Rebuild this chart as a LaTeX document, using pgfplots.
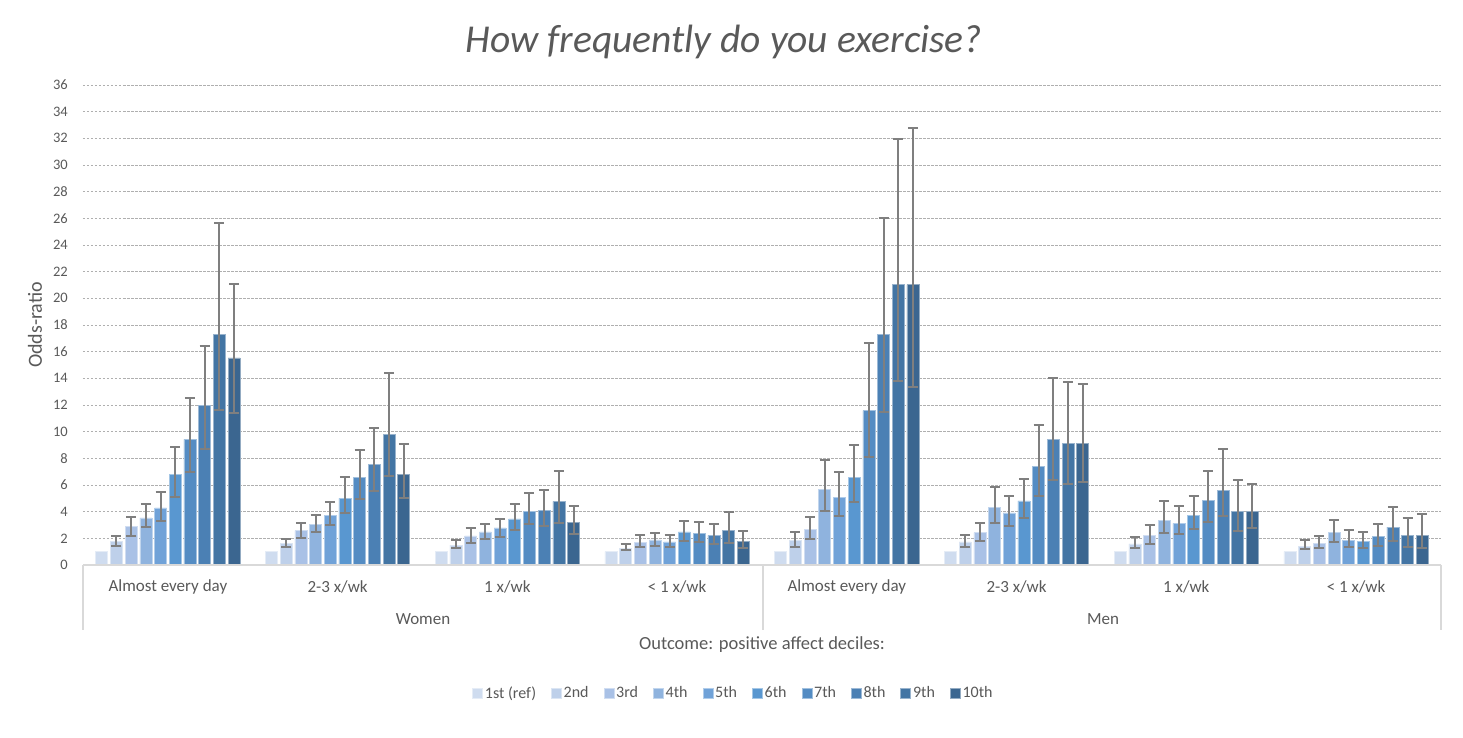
\documentclass[border=0pt]{standalone}
\usepackage{fontspec}
\setmainfont{Carlito}
\usepackage{pgfplots}
\pgfplotsset{compat=1.18}
\usepackage{pgfplotstable}

\definecolor{c1}{RGB}{207,220,239}
\definecolor{c2}{RGB}{190,208,234}
\definecolor{c3}{RGB}{169,193,230}
\definecolor{c4}{RGB}{143,179,222}
\definecolor{c5}{RGB}{112,162,216}
\definecolor{c6}{RGB}{89,151,208}
\definecolor{c7}{RGB}{84,140,195}
\definecolor{c8}{RGB}{75,128,180}
\definecolor{c9}{RGB}{67,117,164}
\definecolor{c10}{RGB}{59,102,144}
\definecolor{txt}{RGB}{89,89,89}
\definecolor{errc}{RGB}{127,127,127}
\definecolor{axc}{RGB}{217,217,217}
\definecolor{gridc}{RGB}{175,175,175}

\pgfplotstableread{
x y lo hi
0 1 1 1
1 1 1 1
2 1 1 1
3 1 1 1
4 1 1 1
5 1 1 1
6 1 1 1
7 1 1 1
}\dA
\pgfplotstableread{
x y lo hi
0 1.75 1.40 2.20
1 1.63 1.33 1.98
2 1.50 1.28 1.88
3 1.25 1.13 1.58
4 1.83 1.35 2.45
5 1.73 1.35 2.25
6 1.58 1.25 2.13
7 1.40 1.20 1.85
}\dB
\pgfplotstableread{
x y lo hi
0 2.88 2.20 3.63
1 2.58 2.03 3.18
2 2.18 1.68 2.80
3 1.70 1.33 2.25
4 2.68 1.93 3.58
5 2.43 1.80 3.13
6 2.20 1.58 3.03
7 1.63 1.28 2.20
}\dC
\pgfplotstableread{
x y lo hi
0 3.53 2.83 4.55
1 3.05 2.45 3.78
2 2.48 1.95 3.10
3 1.88 1.43 2.38
4 5.65 4.08 7.88
5 4.33 3.18 5.88
6 3.35 2.43 4.80
7 2.43 1.70 3.38
}\dD
\pgfplotstableread{
x y lo hi
0 4.28 3.30 5.48
1 3.70 3.00 4.73
2 2.78 2.13 3.48
3 1.73 1.33 2.28
4 5.05 3.68 6.98
5 3.90 2.93 5.18
6 3.13 2.30 4.40
7 1.85 1.35 2.60
}\dE
\pgfplotstableread{
x y lo hi
0 6.78 5.10 8.85
1 5.00 3.88 6.58
2 3.45 2.65 4.60
3 2.48 1.83 3.28
4 6.58 4.75 9.00
5 4.80 3.53 6.48
6 3.73 2.73 5.20
7 1.75 1.28 2.50
}\dF
\pgfplotstableread{
x y lo hi
0 9.43 6.98 12.55
1 6.58 4.95 8.65
2 4.03 3.05 5.40
3 2.40 1.73 3.23
4 11.58 8.08 16.65
5 7.38 5.20 10.53
6 4.85 3.25 7.05
7 2.13 1.40 3.10
}\dG
\pgfplotstableread{
x y lo hi
0 11.98 8.73 16.40
1 7.53 5.55 10.28
2 4.08 2.95 5.60
3 2.23 1.55 3.10
4 17.30 11.45 26.03
5 9.40 6.35 14.05
6 5.60 3.65 8.68
7 2.85 1.78 4.35
}\dH
\pgfplotstableread{
x y lo hi
0 17.30 11.63 25.65
1 9.78 6.70 14.38
2 4.78 3.15 7.08
3 2.60 1.63 3.95
4 21.03 13.83 31.95
5 9.13 6.08 13.75
6 4.00 2.55 6.35
7 2.23 1.38 3.53
}\dI
\pgfplotstableread{
x y lo hi
0 15.53 11.43 21.08
1 6.80 5.00 9.08
2 3.18 2.33 4.43
3 1.78 1.30 2.55
4 21.03 13.38 32.78
5 9.13 6.20 13.60
6 4.00 2.78 6.10
7 2.23 1.25 3.85
}\dJ

\pgfplotsset{
  bb/.style={fill=#1, draw=#1!55!white, line width=0.6pt},
  eb/.style={error bars/.cd, y dir=both, y explicit,
     error bar style={line width=2pt, errc},
     error mark options={rotate=90, mark size=5pt, line width=2pt, errc}},
}

\begin{document}
\begin{tikzpicture}
\path[use as bounding box] (-83pt,-173pt) rectangle (1380pt,565pt);
\begin{axis}[
  width=1358pt, height=480pt, scale only axis,
  xmin=-0.5, xmax=7.5, ymin=0, ymax=36,
  ybar=2.7pt, bar width=12pt,
  xtick={0,...,7},
  xticklabels={Almost every day, 2-3 x/wk, 1 x/wk, \textless{} 1 x/wk, Almost every day, 2-3 x/wk, 1 x/wk, \textless{} 1 x/wk},
  ytick={0,2,...,36},
  ymajorgrids,
  grid style={gridc, dash pattern=on 2.5pt off 1.5pt, line width=0.8pt},
  axis line style={draw=none},
  major tick length=0pt,
  tick style={draw=none},
  /pgf/number format/assume math mode=true,
  yticklabel style={font=\fontsize{14.5}{16}\selectfont, text=txt, anchor=east, inner sep=0pt, xshift=-15pt},
  xticklabel style={font=\fontsize{17}{19}\selectfont, text=txt, anchor=center, inner sep=0pt, yshift=-22pt},
  every axis plot post/.append style={/pgfplots/legend image code/.code={\fill[##1] (0pt,-5pt) rectangle (10pt,5pt);}},
  legend style={at={(axis description cs:0.479,-0.2667)}, anchor=center, draw=none,
     legend columns=10, font=\fontsize{16}{18}\selectfont, text=txt,
     /tikz/every even column/.append style={column sep=13pt}},
  legend cell align=left,
]
\addplot[bb=c1] table[x=x,y=y] {\dA};
\addplot[bb=c2, eb] table[x=x, y=y, y error plus expr=\thisrow{hi}-\thisrow{y}, y error minus expr=\thisrow{y}-\thisrow{lo}] {\dB};
\addplot[bb=c3, eb] table[x=x, y=y, y error plus expr=\thisrow{hi}-\thisrow{y}, y error minus expr=\thisrow{y}-\thisrow{lo}] {\dC};
\addplot[bb=c4, eb] table[x=x, y=y, y error plus expr=\thisrow{hi}-\thisrow{y}, y error minus expr=\thisrow{y}-\thisrow{lo}] {\dD};
\addplot[bb=c5, eb] table[x=x, y=y, y error plus expr=\thisrow{hi}-\thisrow{y}, y error minus expr=\thisrow{y}-\thisrow{lo}] {\dE};
\addplot[bb=c6, eb] table[x=x, y=y, y error plus expr=\thisrow{hi}-\thisrow{y}, y error minus expr=\thisrow{y}-\thisrow{lo}] {\dF};
\addplot[bb=c7, eb] table[x=x, y=y, y error plus expr=\thisrow{hi}-\thisrow{y}, y error minus expr=\thisrow{y}-\thisrow{lo}] {\dG};
\addplot[bb=c8, eb] table[x=x, y=y, y error plus expr=\thisrow{hi}-\thisrow{y}, y error minus expr=\thisrow{y}-\thisrow{lo}] {\dH};
\addplot[bb=c9, eb] table[x=x, y=y, y error plus expr=\thisrow{hi}-\thisrow{y}, y error minus expr=\thisrow{y}-\thisrow{lo}] {\dI};
\addplot[bb=c10, eb] table[x=x, y=y, y error plus expr=\thisrow{hi}-\thisrow{y}, y error minus expr=\thisrow{y}-\thisrow{lo}] {\dJ};
\legend{1st (ref), 2nd, 3rd, 4th, 5th, 6th, 7th, 8th, 9th, 10th}
\end{axis}
% category axis lines
\draw[axc, line width=1.5pt] (0,0) -- (1358pt,0);
\draw[axc, line width=1.5pt] (0,0) -- (0,-65pt);
\draw[axc, line width=1.5pt] (680pt,0) -- (680pt,-65pt);
\draw[axc, line width=1.5pt] (1358pt,0) -- (1358pt,-65pt);
\node[text=txt, font=\fontsize{17}{19}\selectfont] at (340pt,-54pt) {Women};
\node[text=txt, font=\fontsize{17}{19}\selectfont] at (1020pt,-54pt) {Men};
\node[text=txt, font=\fontsize{18.5}{21}\selectfont] at (679pt,-80pt) {Outcome: positive affect deciles:};
\node[text=txt, font=\fontsize{20}{23}\selectfont, rotate=90] at (-48pt,240pt) {Odds-ratio};
\node[text=txt, font=\itshape\fontsize{39.5}{44}\selectfont] at (641pt,523pt) {How frequently do you exercise?};
\end{tikzpicture}
\end{document}
